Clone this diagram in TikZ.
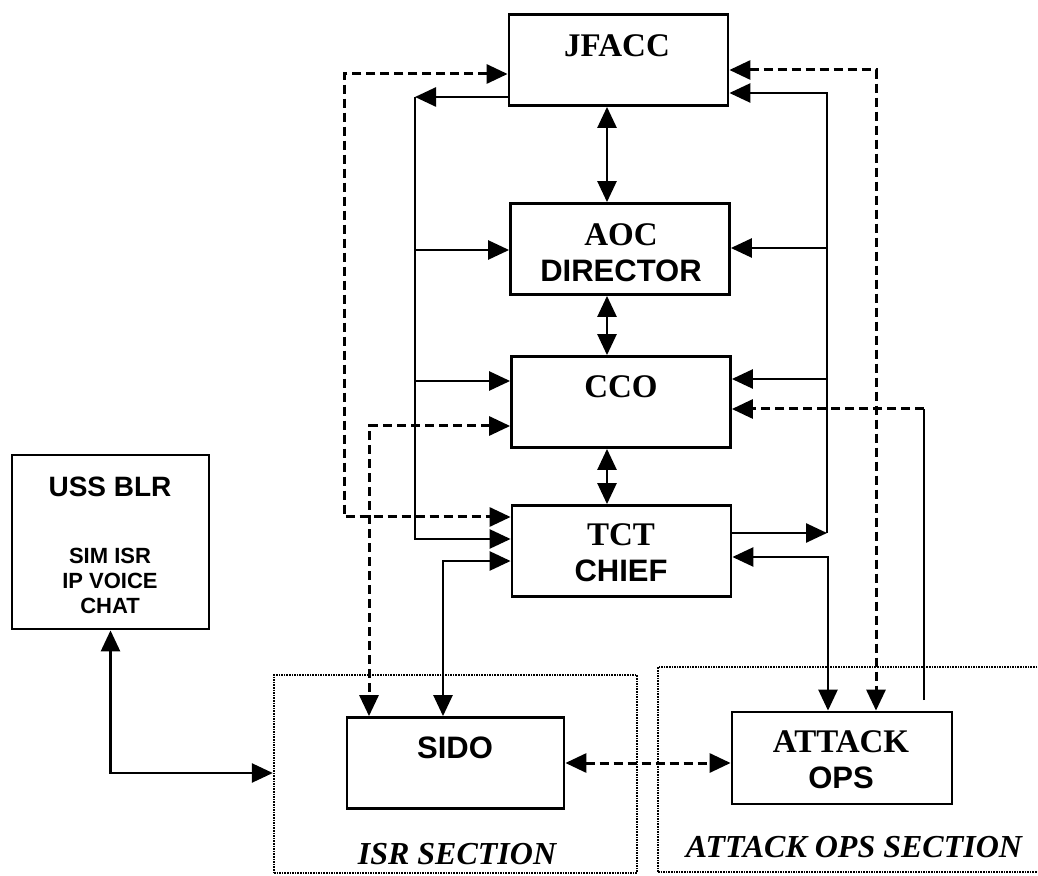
\documentclass[tikz,border=0pt]{standalone}
\usepackage{fontspec}
\setmainfont{Liberation Serif}
\setsansfont{Liberation Sans}
\usetikzlibrary{arrows.meta}
\newcommand{\sfline}[1]{{\sffamily\fontsize{15.5}{18}\selectfont #1}}
\tikzset{
    >={Triangle[length=10.5pt, width=9.5pt]},
    unit-box/.style = {draw, line width=1.4pt, rectangle, minimum width=109.5pt, minimum height=45.5pt, inner sep=0pt},
    section-box/.style = {draw, line width=1.2pt, dash pattern=on 0.8pt off 0.5pt, rectangle, inner sep=0pt},
    unit-title/.style = {font=\bfseries\fontsize{16.5}{18}\selectfont, align=center, inner sep=0pt},
    small-title/.style = {font=\sffamily\bfseries\fontsize{11}{12.5}\selectfont, align=center, inner sep=0pt},
    section-title/.style = {font=\bfseries\itshape\fontsize{16}{18}\selectfont, inner sep=0pt},
    solid-link/.style = {line width=1.3pt},
    dash-link/.style = {line width=1.5pt, dash pattern=on 4.5pt off 2.5pt},
}
\begin{document}
\begin{tikzpicture}[x=0.5pt, y=-0.5pt]
\useasboundingbox (0,0) rectangle (1038,876);
% sections
\node[section-box, minimum width=181.5pt, minimum height=99pt] (isr-sec) at (455.5,774) {};
\node[section-box, minimum width=195pt, minimum height=102.5pt] (attack-sec) at (853,769.5) {};
\node[section-title] (isr-lbl) at (457,854) {ISR SECTION};
\node[section-title] (attack-lbl) at (854,847) {ATTACK OPS SECTION};
% units
\node[unit-box] (jfacc) at (618.5,60) {};
\node[unit-title] (jfacc-lbl) at (617,46) {JFACC};
\node[unit-box] (aoc) at (620,249) {};
\node[unit-title] (aoc-lbl) at (621,253) {AOC\\\sfline{DIRECTOR}};
\node[unit-box] (cco) at (621,402) {};
\node[unit-title] (cco-lbl) at (621,387) {CCO};
\node[unit-box] (tct) at (621.5,551) {};
\node[unit-title] (tct-lbl) at (621,553) {TCT\\\sfline{CHIEF}};
\node[unit-box, minimum width=108.5pt] (sido) at (455.5,763) {};
\node[unit-title] (sido-lbl) at (455,747.5) {\sfline{SIDO}};
\node[unit-box, minimum width=110pt, minimum height=46pt] (attack) at (842,758) {};
\node[unit-title] (attack-lbl) at (841,760) {ATTACK\\\sfline{OPS}};
\node[unit-box, minimum width=98.5pt, minimum height=87pt] (ussblr) at (110.5,542) {};
\node[unit-title, font=\sffamily\bfseries\fontsize{14}{16}\selectfont] (ussblr-lbl) at (110,487) {USS BLR};
\node[small-title] (ussblr-sub) at (110,580.5) {SIM ISR\\IP VOICE\\CHAT};
% chain of command
\coordinate (spine) at (607,0);
\foreach \a/\b in {jfacc/aoc, aoc/cco, cco/tct}
    \draw[solid-link, <->] (\a.south -| spine) -- (\b.north -| spine);
% left bus
\coordinate (left-bus-top) at (415,97);
\coordinate (left-bus-bot) at (415,539);
\coordinate (lb-aoc) at (415,250);
\coordinate (lb-cco) at (415,381);
\draw[solid-link, ->] (left-bus-top -| jfacc.west) -- (left-bus-top);
\draw[solid-link, ->] (left-bus-top) -- (left-bus-bot) -- (left-bus-bot -| tct.west);
\foreach \n in {aoc, cco}
    \draw[solid-link, ->] (lb-\n) -- (lb-\n -| \n.west);
% right bus
\coordinate (right-bus-top) at (827,93);
\coordinate (right-bus-bot) at (827,533);
\coordinate (rb-aoc) at (827,248);
\coordinate (rb-cco) at (827,379);
\draw[solid-link, ->] (right-bus-bot -| tct.east) -- (right-bus-bot);
\draw[solid-link, ->] (right-bus-bot) -- (right-bus-top) -- (right-bus-top -| jfacc.east);
\foreach \n in {aoc, cco}
    \draw[solid-link, ->] (rb-\n) -- (rb-\n -| \n.east);
% dashed links
\coordinate (dl-top) at (344,74);
\coordinate (dl-bot) at (344,517);
\draw[dash-link, <->] (dl-top -| jfacc.west) -- (dl-top) -- (dl-bot) -- (dl-bot -| tct.west);
\coordinate (cs-turn) at (369,426);
\draw[dash-link, <->] (cs-turn -| cco.west) -- (cs-turn) -- (cs-turn |- sido.north);
\coordinate (ja-turn) at (876,70);
\draw[dash-link, <->] (ja-turn -| jfacc.east) -- (ja-turn) -- (ja-turn |- attack.north);
\coordinate (ac-foot) at (924,700);
\coordinate (ac-turn) at (924,409);
\draw[solid-link] (ac-foot) -- (ac-turn);
\draw[dash-link, ->] (ac-turn) -- (ac-turn -| cco.east);
\draw[dash-link, <->] (sido.east) -- (sido.east -| attack.west);
% tct to sections
\coordinate (ts-turn) at (443,561);
\draw[solid-link, <->] (ts-turn -| tct.west) -- (ts-turn) -- (ts-turn |- sido.north);
\coordinate (ta-turn) at (828,557);
\draw[solid-link, <->] (ta-turn -| tct.east) -- (ta-turn) -- (ta-turn |- attack.north);
% uss blr
\coordinate (usr-turn) at (110.5,773);
\draw[solid-link, <->] (ussblr.south) -- (usr-turn) -- (usr-turn -| isr-sec.west);
\end{tikzpicture}
\end{document}
